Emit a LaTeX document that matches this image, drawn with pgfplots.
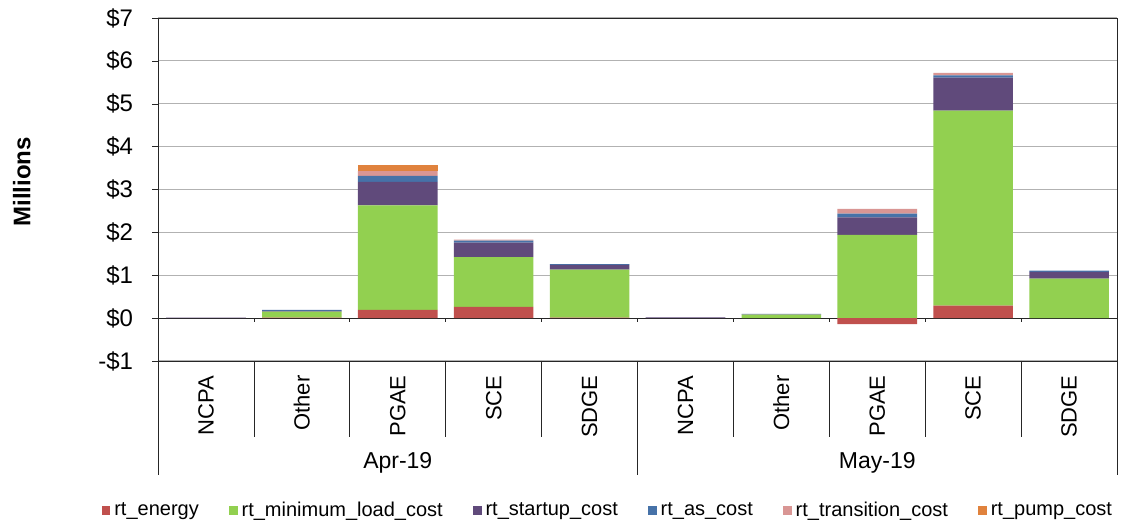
\documentclass[border=0pt]{standalone}
\usepackage{pgfplots}
\pgfplotsset{compat=1.18}
\usepackage{pgfplotstable}
\usepackage{fontspec}
\setmainfont{Liberation Sans}

\definecolor{cEnergy}{HTML}{C0504D}
\definecolor{cMinLoad}{HTML}{92D050}
\definecolor{cStartup}{HTML}{604A7B}
\definecolor{cAS}{HTML}{4672A8}
\definecolor{cTrans}{HTML}{D99694}
\definecolor{cPump}{HTML}{E0823D}

% x: 0-4 Apr-19, 5-9 May-19 (NCPA, Other, PGAE, SCE, SDGE)
\pgfplotstableread{
x energy minload startup as trans pump
0 0 0 0.01 0 0 0
1 0.01 0.14 0.02 0.02 0 0
2 0.19 2.44 0.55 0.14 0.11 0.15
3 0.26 1.16 0.34 0.05 0.02 0
4 0.01 1.12 0.11 0.02 0 0
5 0 0 0.02 0 0 0
6 0 0.08 0.01 0.01 0 0
7 -0.14 1.94 0.41 0.09 0.11 0
8 0.29 4.55 0.77 0.05 0.06 0
9 0 0.92 0.16 0.03 0 0
}\costs

\tikzset{catlab/.style={rotate=90, anchor=east, inner sep=0pt, font=\fontsize{11}{13}\selectfont}}

\begin{document}
\begin{tikzpicture}
\begin{axis}[
    width=479.5pt, height=171.5pt, scale only axis,
    ybar stacked, bar width=0.83,
    xmin=-0.5, xmax=9.5, ymin=-1, ymax=7,
    xtick=\empty,
    ytick={-1,0,1,2,3,4,5,6,7},
    yticklabels={-\$1,\$0,\$1,\$2,\$3,\$4,\$5,\$6,\$7},
    ytick pos=left,
    tick align=outside, major tick length=3pt,
    tick style={black!85},
    tick label style={font=\fontsize{12}{14}\selectfont},
    yticklabel style={xshift=-6pt},
    axis line style={black!85},
    ymajorgrids, grid style={black!30, line width=0.6pt},
    clip=false,
    ylabel={\textbf{Millions}},
    ylabel style={at={(axis description cs:-0.142,0.522)}, anchor=center,
        font=\fontsize{12}{14}\selectfont},
    legend style={at={(axis description cs:0.47,-0.437)}, anchor=center,
        draw=none, legend columns=6, font=\fontsize{10}{12}\selectfont,
        /tikz/every even column/.append style={column sep=13pt}},
    legend image code/.code={\fill[#1] (0pt,-2.2pt) rectangle (4.4pt,2.2pt);},
  ]
  \addplot[fill=cEnergy, draw=none] table[x=x,y=energy]{\costs};
  \addlegendentry{rt\_energy}
  \addplot[fill=cMinLoad, draw=none] table[x=x,y=minload]{\costs};
  \addlegendentry{rt\_minimum\_load\_cost}
  \addplot[fill=cStartup, draw=none] table[x=x,y=startup]{\costs};
  \addlegendentry{rt\_startup\_cost}
  \addplot[fill=cAS, draw=none] table[x=x,y=as]{\costs};
  \addlegendentry{rt\_as\_cost}
  \addplot[fill=cTrans, draw=none] table[x=x,y=trans]{\costs};
  \addlegendentry{rt\_transition\_cost}
  \addplot[fill=cPump, draw=none] table[x=x,y=pump]{\costs};
  \addlegendentry{rt\_pump\_cost}

  % zero line with small boundary ticks
  \draw[black!85, line width=0.6pt] (axis cs:-0.5,0) -- (axis cs:9.5,0);
  \draw[black!85] (axis cs:0.5,0) -- (axis cs:0.5,-0.08);
  \draw[black!85] (axis cs:1.5,0) -- (axis cs:1.5,-0.08);
  \draw[black!85] (axis cs:2.5,0) -- (axis cs:2.5,-0.08);
  \draw[black!85] (axis cs:3.5,0) -- (axis cs:3.5,-0.08);
  \draw[black!85] (axis cs:4.5,0) -- (axis cs:4.5,-0.08);
  \draw[black!85] (axis cs:5.5,0) -- (axis cs:5.5,-0.08);
  \draw[black!85] (axis cs:6.5,0) -- (axis cs:6.5,-0.08);
  \draw[black!85] (axis cs:7.5,0) -- (axis cs:7.5,-0.08);
  \draw[black!85] (axis cs:8.5,0) -- (axis cs:8.5,-0.08);
  % category table below the plot
  \draw[black!85] (axis cs:0.5,-1) -- (axis cs:0.5,-2.77);
  \draw[black!85] (axis cs:1.5,-1) -- (axis cs:1.5,-2.77);
  \draw[black!85] (axis cs:2.5,-1) -- (axis cs:2.5,-2.77);
  \draw[black!85] (axis cs:3.5,-1) -- (axis cs:3.5,-2.77);
  \draw[black!85] (axis cs:5.5,-1) -- (axis cs:5.5,-2.77);
  \draw[black!85] (axis cs:6.5,-1) -- (axis cs:6.5,-2.77);
  \draw[black!85] (axis cs:7.5,-1) -- (axis cs:7.5,-2.77);
  \draw[black!85] (axis cs:8.5,-1) -- (axis cs:8.5,-2.77);
  \draw[black!85] (axis cs:-0.5,-1) -- (axis cs:-0.5,-3.66);
  \draw[black!85] (axis cs:4.5,-1) -- (axis cs:4.5,-3.66);
  \draw[black!85] (axis cs:9.5,-1) -- (axis cs:9.5,-3.66);

  \node[catlab] at (axis cs:0,-1.33) {NCPA};
  \node[catlab] at (axis cs:1,-1.33) {Other};
  \node[catlab] at (axis cs:2,-1.33) {PGAE};
  \node[catlab] at (axis cs:3,-1.33) {SCE};
  \node[catlab] at (axis cs:4,-1.33) {SDGE};
  \node[catlab] at (axis cs:5,-1.33) {NCPA};
  \node[catlab] at (axis cs:6,-1.33) {Other};
  \node[catlab] at (axis cs:7,-1.33) {PGAE};
  \node[catlab] at (axis cs:8,-1.33) {SCE};
  \node[catlab] at (axis cs:9,-1.33) {SDGE};
  \node[font=\fontsize{11.5}{13}\selectfont] at (axis cs:2,-3.38) {Apr-19};
  \node[font=\fontsize{11.5}{13}\selectfont] at (axis cs:7,-3.38) {May-19};

  \path (axis cs:-2.148,7.42) rectangle (axis cs:9.573,-4.776);
\end{axis}
\end{tikzpicture}
\end{document}
